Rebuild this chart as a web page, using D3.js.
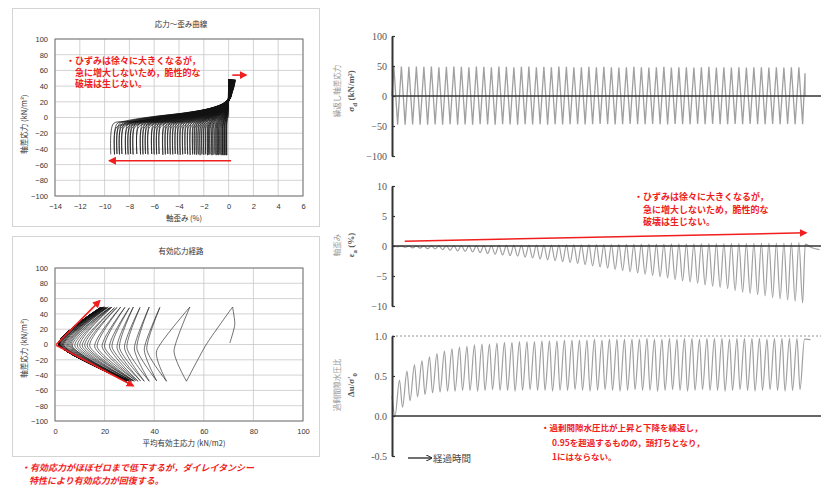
<!DOCTYPE html>
<html><head><meta charset="utf-8">
<script src="https://cdn.jsdelivr.net/npm/d3@7"></script>
<style>body{margin:0;background:#fff}</style>
</head><body>
<svg id="c" width="827" height="495" xmlns="http://www.w3.org/2000/svg"></svg>
<script>
// ---------------- DATA ----------------
const ssXTicks = [-14,-12,-10,-8,-6,-4,-2,0,2,4,6];
const ssYTicks = [-100,-80,-60,-40,-20,0,20,40,60,80,100];
const spXTicks = [0,20,40,60,80,100];
const sdTicks = [-100,-50,0,50,100];
const epsTicks = [-10,-5,0,5,10];
const ruTicks = [-0.5,0,0.5,1.0];
const ruTickLabels = ["-0.5","0.0","0.5","1.0"];

// cyclic deviator stress per cycle (kN/m2)
const stressPeaks = [49,49,48.5,49,48.5,49,48,48.5,49,48.5,48,49,48.5,48,49,48.5,48,48.5,49,48,48.5,48,49,48.5,48,48,48.5,48,48.5,48,47.5,48,48.5,48,47.5,48,48.5,47.5,48,48,47.5,48,48.5,47.5,48,47.5,48,47.5,48,48,47.5,48,47.5,48,48];
const stressTroughs = [-48,-48,-47.5,-48,-48,-47.5,-48,-47,-48,-47.5,-48,-47,-47.5,-48,-47,-47.5,-48,-47,-47.5,-47,-48,-47,-47.5,-47,-47,-47.5,-47,-46.5,-47,-47.5,-47,-46.5,-47,-47,-46.5,-47,-47.5,-46.5,-47,-47,-46.5,-47,-46.5,-47,-47,-46.5,-47,-46.5,-47,-47,-46.5,-47,-46.5,-47,-47];
const stressEnd = 38;

// axial strain per cycle (%)
const strainPeaks = [0,0,0,0,0,0.02,0.03,0.04,0.05,0.05,0.06,0.07,0.08,0.08,0.09,0.1,0.1,0.12,0.13,0.14,0.15,0.16,0.17,0.18,0.2,0.2,0.22,0.23,0.24,0.25,0.26,0.27,0.28,0.3,0.3,0.32,0.33,0.34,0.35,0.36,0.37,0.38,0.4,0.4,0.42,0.43,0.44,0.45,0.46,0.47,0.48,0.5,0.5,0.52,0.55];
const strainTroughs = [-0.15,-0.2,-0.3,-0.35,-0.45,-0.5,-0.6,-0.7,-0.8,-0.9,-1.0,-1.1,-1.25,-1.35,-1.5,-1.6,-1.7,-1.85,-2.0,-2.15,-2.3,-2.45,-2.6,-2.75,-2.9,-3.1,-3.3,-3.5,-3.7,-3.9,-4.1,-4.3,-4.5,-4.7,-4.9,-5.1,-5.3,-5.6,-5.8,-6.0,-6.2,-6.5,-6.7,-6.9,-7.1,-7.4,-7.7,-7.9,-8.1,-8.3,-8.6,-8.8,-9.0,-9.2,-9.5];
const strainTail = [0.3,-0.3,-0.6];

// excess pore water pressure ratio
const poreStart = 0.25;
const porePeaks = [0.45,0.56,0.64,0.69,0.74,0.78,0.81,0.84,0.86,0.87,0.89,0.90,0.90,0.91,0.92,0.92,0.93,0.93,0.93,0.94,0.94,0.94,0.95,0.95,0.95,0.95,0.96,0.95,0.96,0.96,0.96,0.96,0.96,0.97,0.96,0.96,0.97,0.96,0.97,0.97,0.96,0.97,0.97,0.97,0.96,0.97,0.97,0.97,0.97,0.96,0.97,0.97,0.97,0.97,0.96];
const poreTroughs = [0.0,0.11,0.19,0.24,0.27,0.29,0.30,0.31,0.31,0.32,0.32,0.31,0.32,0.33,0.32,0.32,0.31,0.32,0.33,0.32,0.32,0.31,0.32,0.32,0.33,0.32,0.31,0.32,0.33,0.32,0.31,0.32,0.33,0.32,0.32,0.31,0.32,0.33,0.32,0.31,0.32,0.33,0.32,0.32,0.31,0.32,0.33,0.32,0.31,0.32,0.33,0.32,0.31,0.32,0.33];
const poreEnd = 0.955;

// effective stress path: mean effective stress p' (kN/m2) at key points of each cycle
const pathStartP = [70.5, 72.5];
const pathStartQ = [2, 26];
const pathPeakP = [71.6,54.4,42.3,38,34.3,31.6,30,28.2,26.5,25,24,23,22.5,22,21.5,21,20.5,20.5,20,20,19.5,19.5,19.5,19,19,19,19,18.5,18.5,18.5,18.5,18.5,18.5,18.5,18.5,18.5,18.5,18.5,18.5,18.5,18.5,18.5,18.5,18.5,18.5,18.5,18.5,18.5,18.5,18.5,18.5,18.5,18.5,18.5,18.5];
const pathTroughP = [53,45,41,38,36,34.5,33.5,32.5,32,31.5,31,30.5,30,30,29.5,29.5,29,29,29,29,29,29,29,29,29,29,29,29,29,29,29,29,29,29,29,29,29,29,29,29,29,29,29,29,29,29,29,29,29,29,29,29,29,29,29];
const pathDownMidP = [61,41,36,32,28,25,22,19,16,13,11,9,7,6,5,4,3.5,3,2.5,2,2,1.5,1.5,1.5,1.5,1.5,1.5,1.5,1.5,1.5,1.5,1.5,1.5,1.5,1.5,1.5,1.5,1.5,1.5,1.5,1.5,1.5,1.5,1.5,1.5,1.5,1.5,1.5,1.5,1.5,1.5,1.5,1.5,1.5,1.5];
const pathUpMidP = [48,37,33,29,26,23,20,17,14,12,10,8,6.5,5.5,4.5,3.5,3,2.5,2,2,1.5,1.5,1.5,1.5,1.5,1.5,1.5,1.5,1.5,1.5,1.5,1.5,1.5,1.5,1.5,1.5,1.5,1.5,1.5,1.5,1.5,1.5,1.5,1.5,1.5,1.5,1.5,1.5,1.5,1.5,1.5,1.5,1.5,1.5,1.5];
const pathMidQ = [0,-8,-6,-5,-4,-4,-3,-3,-3,-2,-2,-2,-2,-1,-1,-1,-1,-1,-1,-1,0,0,0,0,0,0,0,0,0,0,0,0,0,0,0,0,0,0,0,0,0,0,0,0,0,0,0,0,0,0,0,0,0,0,0];

// shape of one stress-strain branch, read from the loops (q, fraction of strain swing)
const ssUnloadQ = [48,35,22,15,10,5,2,-2,-5,-8,-47];
const ssUnloadF = [0,0.02,0.05,0.13,0.25,0.45,0.62,0.8,0.9,0.98,1];
const ssReloadQ = [-47,-20,-12,-7,-3,1,6,12,20,35,48];
const ssReloadF = [1,1,0.98,0.9,0.75,0.58,0.38,0.2,0.08,0.02,0];

// ---------------- DRAWING ----------------
const svg = d3.select('#c');
const SANS = "'Liberation Sans','Noto Sans CJK JP',sans-serif";
const CJK = "'Noto Sans CJK JP','Liberation Sans',sans-serif";
const SERIF = "'Liberation Serif','DejaVu Serif',serif";
const RED = '#f01e1e';

const defs = svg.append('defs');
defs.append('marker').attr('id','ar').attr('viewBox','0 0 10 10').attr('refX',8).attr('refY',5)
  .attr('markerWidth',5).attr('markerHeight',5).attr('orient','auto-start-reverse')
  .append('path').attr('d','M0,0L10,5L0,10z').attr('fill',RED);
defs.append('marker').attr('id','ak').attr('viewBox','0 0 10 10').attr('refX',8).attr('refY',5)
  .attr('markerWidth',5).attr('markerHeight',5).attr('orient','auto')
  .append('path').attr('d','M0,0L10,5L0,10').attr('fill','none').attr('stroke','#222').attr('stroke-width',1.5);

// panel boxes
svg.append('rect').attr('x',12.5).attr('y',8.5).attr('width',307).attr('height',218).attr('fill','#fff').attr('stroke','#d4d4d4');
svg.append('rect').attr('x',12.5).attr('y',236.5).attr('width',307).attr('height',220).attr('fill','#fff').attr('stroke','#d4d4d4');

function leftFrame(id, x, y, xt, yt, title, titleY, xTitle, xTitleY, yTitleY) {
  const g = svg.append('g');
  const [x0,x1] = x.range(), [y0,y1] = y.range();
  g.selectAll(null).data(xt).join('line').attr('x1',d=>x(d)).attr('x2',d=>x(d)).attr('y1',y0).attr('y2',y1)
    .attr('stroke','#c8c8c8').attr('stroke-width',0.8);
  g.selectAll(null).data(yt).join('line').attr('y1',d=>y(d)).attr('y2',d=>y(d)).attr('x1',x0).attr('x2',x1)
    .attr('stroke','#c8c8c8').attr('stroke-width',0.8);
  g.append('rect').attr('x',x0).attr('y',y1).attr('width',x1-x0).attr('height',y0-y1).attr('fill','none').attr('stroke','#777').attr('stroke-width',1);
  const ay = g.append('g').attr('transform',`translate(${x0},0)`).call(d3.axisLeft(y).tickValues(yt).tickSize(0).tickPadding(7));
  const ax = g.append('g').attr('transform',`translate(0,${y0})`).call(d3.axisBottom(x).tickValues(xt).tickSize(0).tickPadding(8));
  [ax,ay].forEach(a=>{a.select('.domain').remove(); a.selectAll('text').attr('font-family',SANS).attr('font-size',7.5).attr('fill','#333');});
  svg.append('clipPath').attr('id',id).append('rect').attr('x',x0).attr('y',y1).attr('width',x1-x0).attr('height',y0-y1);
  svg.append('text').attr('x',(x0+x1)/2+2).attr('y',titleY).attr('text-anchor','middle').attr('font-family',CJK).attr('font-size',7.5).attr('fill','#333').text(title);
  svg.append('text').attr('x',(x0+x1)/2+5).attr('y',xTitleY).attr('text-anchor','middle').attr('font-family',CJK).attr('font-size',7.5).attr('fill','#333').text(xTitle);
  svg.append('text').attr('transform',`translate(27,${yTitleY}) rotate(-90)`).attr('text-anchor','middle').attr('font-family',CJK).attr('font-size',7.5).attr('fill','#333')
    .text('軸差応力 (kN/m²)');
  return g;
}

// ---- stress-strain curve ----
const xS = d3.scaleLinear().domain([-14,6]).range([55,303]);
const yS = d3.scaleLinear().domain([-100,100]).range([196,39]);
leftFrame('clipS', xS, yS, ssXTicks, ssYTicks, '応力～歪み曲線', 27, '軸歪み (%)', 221, 124);
const gS = svg.append('g').attr('clip-path','url(#clipS)');
const lineS = d3.line().x(d=>xS(d[0])).y(d=>yS(d[1])).curve(d3.curveCatmullRom.alpha(0.5));
const ssBranches = [];
ssBranches.push([[0,0],[strainPeaks[0]*0.5,25],[strainPeaks[0],stressPeaks[0]]]);
for (let k=0;k<strainTroughs.length;k++){
  const ep=strainPeaks[k], et=strainTroughs[k], last=ssUnloadQ.length-1;
  ssBranches.push(ssUnloadQ.map((q,i)=>[ep+(et-ep)*ssUnloadF[i], i===0?stressPeaks[k]:(i===last?stressTroughs[k]:q)]));
  if (k+1<strainPeaks.length){
    const ep2=strainPeaks[k+1];
    ssBranches.push(ssReloadQ.map((q,i)=>[ep2+(et-ep2)*ssReloadF[i], i===0?stressTroughs[k]:(i===last?stressPeaks[k+1]:q)]));
  }
}
gS.selectAll(null).data(ssBranches).join('path').attr('d',lineS).attr('fill','none').attr('stroke','#111').attr('stroke-width',0.7);
// red arrows & note
svg.append('line').attr('x1',xS(0.3)).attr('y1',yS(54)).attr('x2',xS(1.4)).attr('y2',yS(54)).attr('stroke',RED).attr('stroke-width',1.6).attr('marker-end','url(#ar)');
svg.append('line').attr('x1',xS(0.2)).attr('y1',yS(-55)).attr('x2',xS(-9.6)).attr('y2',yS(-55)).attr('stroke',RED).attr('stroke-width',1.6).attr('marker-end','url(#ar)');
const noteTL = ['・ひずみは徐々に大きくなるが，','急に増大しないため，脆性的な','破壊は生じない。'];
svg.append('g').selectAll('text').data(noteTL).join('text').attr('x',(d,i)=>i?75:66).attr('y',(d,i)=>64+i*11.5)
  .attr('font-family',CJK).attr('font-weight','bold').attr('font-size',9).attr('fill',RED).text(d=>d);

// ---- effective stress path ----
const xP = d3.scaleLinear().domain([0,100]).range([55,303]);
const yP = d3.scaleLinear().domain([-100,100]).range([421,268]);
leftFrame('clipP', xP, yP, spXTicks, ssYTicks, '有効応力経路', 254, '平均有効主応力 (kN/m2)', 446, 348);
const gP = svg.append('g').attr('clip-path','url(#clipP)');
const lineP = d3.line().x(d=>xP(d[0])).y(d=>yP(d[1])).curve(d3.curveCardinal.tension(0.35));
const pBranches = [];
pBranches.push([[pathStartP[0],pathStartQ[0]],[pathStartP[1],pathStartQ[1]],[pathPeakP[0],stressPeaks[0]]]);
for (let k=0;k<pathPeakP.length;k++){
  pBranches.push([[pathPeakP[k],stressPeaks[k]],[pathDownMidP[k],pathMidQ[k]],[pathTroughP[k],stressTroughs[k]]]);
  if (k+1<pathPeakP.length) pBranches.push([[pathTroughP[k],stressTroughs[k]],[pathUpMidP[k],pathMidQ[k+1]],[pathPeakP[k+1],stressPeaks[k+1]]]);
}
gP.selectAll(null).data(pBranches).join('path').attr('d',lineP).attr('fill','none').attr('stroke','#111').attr('stroke-width',0.6);
svg.append('line').attr('x1',xP(0.5)).attr('y1',yP(0)).attr('x2',xP(18)).attr('y2',yP(57)).attr('stroke',RED).attr('stroke-width',1.6).attr('marker-end','url(#ar)');
svg.append('line').attr('x1',xP(0.5)).attr('y1',yP(-1)).attr('x2',xP(31.5)).attr('y2',yP(-54)).attr('stroke',RED).attr('stroke-width',1.6).attr('marker-end','url(#ar)');
const noteBL = ['・有効応力がほぼゼロまで低下するが，ダイレイタンシー','特性により有効応力が回復する。'];
svg.append('g').selectAll('text').data(noteBL).join('text').attr('x',(d,i)=>i?29:21).attr('y',(d,i)=>471+i*12.5)
  .attr('font-family',CJK).attr('font-weight','bold').attr('font-style','italic').attr('font-size',9).attr('fill',RED).text(d=>d);

// ---- right time-history charts ----
const xT = d3.scaleLinear().domain([0,57.2]).range([392,821]);
function rightAxis(y, ticks, labels) {
  const a = d3.axisLeft(y).tickValues(ticks).tickSizeInner(-3).tickSizeOuter(0).tickPadding(5);
  if (labels) a.tickFormat((d,i)=>labels[i]);
  const g = svg.append('g').attr('transform','translate(392,0)').call(a);
  g.select('.domain').attr('stroke','#333').attr('stroke-width',2);
  g.selectAll('.tick line').attr('stroke','#333').attr('stroke-width',1.2);
  g.selectAll('text').attr('font-family',SERIF).attr('font-size',10).attr('fill','#555');
  svg.append('line').attr('x1',392).attr('x2',821).attr('y1',y(0)).attr('y2',y(0)).attr('stroke','#333').attr('stroke-width',1.5);
}
function yLabel(l1, cy, build) {
  svg.append('text').attr('transform',`translate(340,${cy}) rotate(-90)`).attr('text-anchor','middle')
    .attr('font-family',CJK).attr('font-size',7.5).attr('fill','#999').text(l1);
  const t = svg.append('text').attr('transform',`translate(354,${cy}) rotate(-90)`).attr('text-anchor','middle')
    .attr('font-family',SERIF).attr('font-size',9).attr('font-weight','bold').attr('fill','#555');
  build(t);
}
const wave = (y,c)=>d3.line().x(d=>xT(d[0])).y(d=>y(d[1])).curve(c);

// stress
const yD = d3.scaleLinear().domain([-100,100]).range([156,36]);
const sdPts = [[0,0]];
stressPeaks.forEach((v,k)=>{ sdPts.push([k+0.25,v]); sdPts.push([k+0.75,stressTroughs[k]]); });
sdPts.push([55.07,stressEnd]); sdPts.push([55.07,0]);
svg.append('path').attr('d',wave(yD,d3.curveLinear)(sdPts)).attr('fill','none').attr('stroke','#a0a0a0').attr('stroke-width',1.3);
rightAxis(yD, sdTicks);
yLabel('繰返し軸差応力', 91, t=>{t.append('tspan').text('σ');t.append('tspan').attr('font-size',7).attr('dy',3).text('d');t.append('tspan').attr('dy',-3).text(' (kN/m²)');});

// strain
const yE = d3.scaleLinear().domain([-10,10]).range([306,186]);
const epPts = [[0,0]];
strainPeaks.forEach((v,k)=>{ epPts.push([k+0.25,v]); epPts.push([k+0.75,strainTroughs[k]]); });
epPts.push([55.1,strainTail[0]]); epPts.push([56,strainTail[1]]); epPts.push([57,strainTail[2]]);
svg.append('path').attr('d',wave(yE,d3.curveMonotoneX)(epPts)).attr('fill','none').attr('stroke','#a0a0a0').attr('stroke-width',1.2);
rightAxis(yE, epsTicks);
yLabel('軸歪み', 245, t=>{t.append('tspan').text('ε');t.append('tspan').attr('font-size',7).attr('dy',3).text('a');t.append('tspan').attr('dy',-3).text(' (%)');});
svg.append('line').attr('x1',xT(1.7)).attr('y1',yE(0.8)).attr('x2',xT(55.2)).attr('y2',yE(2.2)).attr('stroke',RED).attr('stroke-width',1.6).attr('marker-end','url(#ar)');
const noteMR = ['・ひずみは徐々に大きくなるが，','急に増大しないため，脆性的な','破壊は生じない。'];
svg.append('g').selectAll('text').data(noteMR).join('text').attr('x',(d,i)=>i?643:634).attr('y',(d,i)=>200+i*12.5)
  .attr('font-family',CJK).attr('font-weight','bold').attr('font-size',9).attr('fill',RED).text(d=>d);

// pore pressure ratio
const yR = d3.scaleLinear().domain([-0.5,1.0]).range([456,336]);
svg.append('line').attr('x1',392).attr('x2',821).attr('y1',yR(1)).attr('y2',yR(1)).attr('stroke','#777').attr('stroke-width',0.8).attr('stroke-dasharray','2,2');
const ruPts = [[0,poreStart]];
poreTroughs.forEach((v,k)=>{ ruPts.push([k+0.4,v]); ruPts.push([k+1,porePeaks[k]]); });
ruPts.push([55.8,poreEnd]);
svg.append('path').attr('d',wave(yR,d3.curveMonotoneX)(ruPts)).attr('fill','none').attr('stroke','#a0a0a0').attr('stroke-width',1.2);
rightAxis(yR, ruTicks, ruTickLabels);
yLabel('過剰間隙水圧比', 385, t=>{t.append('tspan').text("Δu/σ'");t.append('tspan').attr('font-size',7).attr('dy',3).text('0');});
svg.append('line').attr('x1',408).attr('x2',431).attr('y1',458).attr('y2',458).attr('stroke','#222').attr('stroke-width',1.3).attr('marker-end','url(#ak)');
svg.append('text').attr('x',433).attr('y',461.5).attr('font-family',CJK).attr('font-size',9.5).attr('fill','#444').text('経過時間');
const noteBR = ['・過剰間隙水圧比が上昇と下降を繰返し，','0.95を超過するものの，頭打ちとなり，','1にはならない。'];
svg.append('g').selectAll('text').data(noteBR).join('text').attr('x',(d,i)=>i?552:541).attr('y',(d,i)=>431+i*14.5)
  .attr('font-family',CJK).attr('font-weight','bold').attr('font-size',8.5).attr('fill',RED).text(d=>d);
</script>
</body></html>
